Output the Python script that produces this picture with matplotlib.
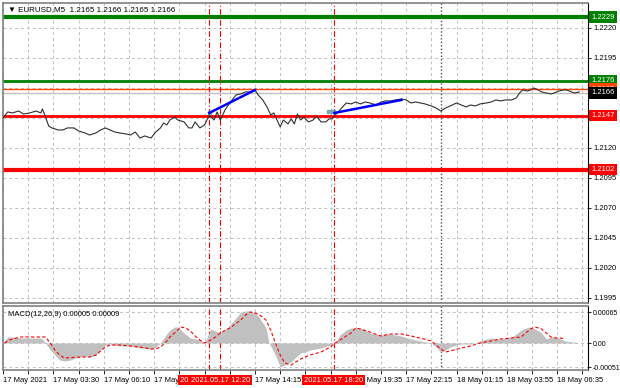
import matplotlib.pyplot as plt
from matplotlib.patches import Rectangle
from matplotlib.transforms import blended_transform_factory
import numpy as np

plt.rcParams['font.family'] = ['Liberation Sans', 'DejaVu Sans']
FS = 5.5

# Price trace (bar index of M5 bars, close price)
price_bar = [0, 3, 6, 10, 13, 17, 21, 24, 25, 27, 29, 31, 35, 38, 41, 45, 48, 52, 55, 59,
             62, 65, 68, 71, 74, 78, 81, 84, 87, 90, 94, 97, 100, 102, 104, 106, 109, 111, 115, 118,
             120, 122, 125, 128, 131, 134, 136, 138, 141, 144, 148, 151, 154, 157, 160, 162, 165, 168, 170, 172,
             174, 176, 178, 181, 183, 185, 187, 189, 191, 194, 197, 199, 202, 205, 207, 209, 211, 214, 218, 221,
             224, 227, 230, 233, 237, 240, 243, 246, 249, 253, 256, 259, 262, 265, 268, 272, 275, 278, 281, 284,
             288, 291, 294, 297, 300, 303, 307, 310, 313, 316, 319, 323, 326, 328, 330, 333, 335, 337, 340, 342,
             345, 348, 350, 353, 356, 358, 361, 363, 366]
price_val = [1.21450, 1.21500, 1.21492, 1.21508, 1.21483, 1.21492, 1.21508, 1.21492, 1.21525, 1.21458,
             1.21383, 1.21367, 1.21350, 1.21350, 1.21367, 1.21367, 1.21342, 1.21325, 1.21308, 1.21325,
             1.21350, 1.21367, 1.21350, 1.21333, 1.21325, 1.21317, 1.21308, 1.21333, 1.21283, 1.21300,
             1.21283, 1.21333, 1.21367, 1.21408, 1.21392, 1.21433, 1.21458, 1.21433, 1.21417, 1.21367,
             1.21367, 1.21417, 1.21367, 1.21392, 1.21475, 1.21433, 1.21500, 1.21433, 1.21517, 1.21575,
             1.21642, 1.21650, 1.21667, 1.21667, 1.21683, 1.21642, 1.21600, 1.21533, 1.21475, 1.21492,
             1.21433, 1.21375, 1.21433, 1.21400, 1.21442, 1.21400, 1.21483, 1.21433, 1.21458, 1.21417,
             1.21433, 1.21467, 1.21417, 1.21417, 1.21442, 1.21442, 1.21475, 1.21517, 1.21575, 1.21567,
             1.21583, 1.21567, 1.21583, 1.21575, 1.21558, 1.21583, 1.21592, 1.21592, 1.21600, 1.21608,
             1.21600, 1.21575, 1.21583, 1.21575, 1.21567, 1.21550, 1.21533, 1.21508, 1.21533, 1.21550,
             1.21575, 1.21558, 1.21542, 1.21558, 1.21550, 1.21567, 1.21575, 1.21583, 1.21600, 1.21592,
             1.21600, 1.21600, 1.21617, 1.21658, 1.21683, 1.21675, 1.21683, 1.21700, 1.21683, 1.21667,
             1.21658, 1.21650, 1.21658, 1.21675, 1.21683, 1.21683, 1.21667, 1.21658, 1.21667]

# MACD main (histogram) and signal, in units of 1e-5
hist_bar = [0, 3, 8, 11, 17, 24, 25, 27, 30, 33, 36, 39, 43, 46, 49, 52, 55, 59, 62, 65,
            68, 74, 81, 87, 94, 97, 100, 103, 106, 109, 111, 115, 119, 125, 128, 132, 135, 138, 141, 144,
            148, 151, 154, 157, 160, 163, 167, 169, 173, 176, 179, 183, 186, 189, 192, 195, 202, 208, 211, 214,
            218, 221, 227, 230, 233, 240, 243, 246, 253, 259, 265, 272, 275, 278, 281, 284, 288, 291, 297, 300,
            303, 307, 310, 316, 323, 326, 329, 332, 335, 338, 342, 345, 348, 351, 354, 357, 361, 364]
hist_val = [0, 12.6, 12.6, 10.5, 10.5, 10.5, 8.4, 0, -14.7, -25.2, -35.7, -37.8, -35.7, -31.5, -29.4, -27.3, -29.4, -25.2, -14.7, -4.2,
            -2.1, -6.3, -6.3, -10.5, -12.6, -8.4, 0, 14.7, 27.3, 33.6, 33.6, 21, 10.5, 6.3, 0, 29.4, 25.2, 21, 27.3, 37.8,
            52.5, 65.1, 67.2, 67.2, 63, 52.5, 31.5, 0, -25.2, -50.4, -46.2, -39.9, -29.4, -21, -18.9, -14.7, -10.5, -4.2, 0, 16.8,
            27.3, 31.5, 31.5, 27.3, 21, 16.8, 18.9, 18.9, 14.7, 8.4, 4.2, 0, -8.4, -18.9, -14.7, -8.4, -4.2, -2.1, -2.1, 0,
            4.2, 8.4, 10.5, 8.4, 12.6, 18.9, 27.3, 31.5, 33.6, 29.4, 21, 8.4, 12.6, 12.6, 8.4, 4.2, 2.1, 2.1]
sig_bar = [1, 4, 11, 27, 30, 33, 36, 39, 49, 55, 59, 62, 65, 68, 74, 81, 87, 94, 97, 100,
           103, 106, 109, 113, 116, 119, 122, 125, 128, 132, 135, 138, 144, 151, 154, 157, 160, 163, 167, 170,
           173, 176, 179, 183, 186, 189, 192, 195, 202, 208, 211, 214, 218, 221, 224, 227, 233, 240, 246, 253,
           259, 265, 272, 278, 281, 284, 291, 297, 303, 310, 316, 323, 329, 332, 335, 338, 342, 345, 348, 351,
           354, 357]
sig_val = [0, 6.3, 12.6, 12.6, 0, -14.7, -25.2, -31.5, -29.4, -29.4, -25.2, -16.8, -8.4, -4.2, -4.2, -6.3, -8.4, -12.6, -12.6, -8.4,
           0, 12.6, 21, 33.6, 31.5, 25.2, 14.7, 6.3, 0, 6.3, 12.6, 21, 31.5, 48.3, 58.8, 65.1, 63, 58.8, 48.3, 27.3,
           0, -25.2, -42, -46.2, -39.9, -33.6, -29.4, -25.2, -18.9, -8.4, 0, 6.3, 14.7, 21, 31.5, 29.4, 23.1, 14.7, 18.9, 18.9,
           14.7, 10.5, 4.2, -12.6, -18.9, -16.8, -10.5, -6.3, 0, 4.2, 8.4, 10.5, 12.6, 21, 29.4, 33.6, 29.4, 21, 12.6, 10.5,
           10.5, 8.4]

# time axis labels every 32 bars
time_labels = ["17 May 2021", "17 May 03:30", "17 May 06:10", "17 May 08:50", "17 May 11:30", "17 May 14:15",
               "17 May 16:55", "17 May 19:35", "17 May 22:15", "18 May 01:15", "18 May 03:55", "18 May 06:35"]

# horizontal levels: (price, colour, width)
levels = [(1.2229, '#008000', 3.0), (1.2176, '#008000', 2.0), (1.2169, '#FF4500', 1.0),
          (1.2166, '#C0C0C0', 1.0), (1.2147, '#FF0000', 2.0), (1.2102, '#FF0000', 3.0)]
level_tags = [(1.2229, '#008000'), (1.2176, '#008000'), (1.2169, '#FF4500'),
              (1.2166, '#000000'), (1.2147, '#FF0000'), (1.2102, '#FF0000')]

vlines = [(131, "2021.05.17 11:45"), (138, "2021.05.17 12:20"), (210, "2021.05.17 18:20")]
day_sep = 278
trend1 = ([131, 160], [1.21492, 1.21683])
trend2 = ([210.5, 253], [1.21492, 1.21600])

fig = plt.figure(figsize=(6.2, 3.88), dpi=100)
L, R = 3 / 620, 588 / 620
ax = fig.add_axes([L, 1 - 303 / 388, R - L, 300 / 388])
ax2 = fig.add_axes([L, 1 - 370 / 388, R - L, 64 / 388])

XMAX = 371.5
for a in (ax, ax2):
    a.set_xlim(0, XMAX)
    a.set_xticks(np.arange(0, XMAX, 32))
    a.set_xticks(np.arange(16, XMAX, 32), minor=True)
    a.grid(True, which='both', axis='x', color='#C0C0C0', ls=(0, (3, 3)), lw=0.7)
    a.grid(True, which='major', axis='y', color='#C0C0C0', ls=(0, (3, 3)), lw=0.7)
    a.yaxis.tick_right()
    a.tick_params(axis='y', labelsize=FS, length=2.5, width=0.6, pad=1.5, colors='black')
    a.tick_params(axis='x', which='both', length=3, width=0.6)
    for s in ('left', 'top', 'bottom'):
        a.spines[s].set_color('#808080')
        a.spines[s].set_linewidth(1.2)
    a.spines['right'].set_color('black')
    a.spines['right'].set_linewidth(0.8)
    a.set_axisbelow(True)

ax.tick_params(axis='x', labelbottom=False, length=0, which='both')
ax.set_ylim(1.19908, 1.22408)
ax.set_yticks(np.arange(1.1995, 1.2241, 0.0025))
ax.set_yticklabels([f"{v:.4f}" for v in np.arange(1.1995, 1.2241, 0.0025)])

for p, c, w in levels:
    ax.axhline(p, color=c, lw=w, zorder=2)

ax.plot(price_bar, price_val, color='#303030', lw=0.8, zorder=3)
ax.plot(*trend1, color='#0000FF', lw=1.8, zorder=4)
ax.plot(*trend2, color='#0000FF', lw=1.8, zorder=4)
ax.add_patch(Rectangle((206, 1.21492), 5, 0.00025, color='#5F9EA0', alpha=0.8, zorder=3))
ax.add_patch(Rectangle((130, 1.21480), 2, 0.00025, color='#5F9EA0', alpha=0.8, zorder=3))

for a in (ax, ax2):
    for b, _ in vlines:
        a.axvline(b, color='#FF0000', lw=0.8, ls=(0, (5, 2, 1, 2)), zorder=2)
    a.axvline(day_sep, color='#505050', lw=1.0, ls=(0, (1, 1.5)), zorder=2)

bt = blended_transform_factory(ax.transAxes, ax.transData)
for p, c in level_tags:
    ax.text(1.006, p, f"{p:.4f}", transform=bt, fontsize=FS, color='white', ha='left', va='center',
            clip_on=False, zorder=5,
            bbox=dict(boxstyle='square,pad=0.3', fc=c, ec='none'))

ax.text(0.008, 0.978, "\u25bc EURUSD,M5  1.2165 1.2166 1.2165 1.2166", transform=ax.transAxes,
        fontsize=FS + 0.3, ha='left', va='center')

# MACD panel
hb = np.array(hist_bar)
hv = np.array(hist_val) * 1e-5
ax2.fill_between(hb, 0, hv, color='#C0C0C0', lw=0, zorder=3)
ax2.plot(sig_bar, np.array(sig_val) * 1e-5, color='#FF0000', lw=0.8, ls=(0, (3, 2)), zorder=4)
ax2.set_ylim(-0.000567, 0.000777)
ax2.set_yticks([-0.00051, 0.0, 0.00065])
ax2.set_yticklabels(["-0.00051", "0.00", "0.00065"], fontsize=FS - 0.5)
ax2.tick_params(axis='y', pad=1)
ax2.text(0.008, 0.87, "MACD(12,26,9) 0.00005 0.00009", transform=ax2.transAxes,
         fontsize=FS, ha='left', va='center')

ax2.set_xticklabels(time_labels, ha='left', fontsize=FS)
ax2.tick_params(axis='x', pad=2)

tb = blended_transform_factory(ax2.transData, fig.transFigure)
for b, lab in vlines:
    fig.text(b, 1 - 380 / 388, lab, transform=tb, fontsize=FS, color='white', ha='center', va='center',
             zorder=10, bbox=dict(boxstyle='square,pad=0.25', fc='#FF0000', ec='none'))

fig.savefig('out.png', dpi=100)
